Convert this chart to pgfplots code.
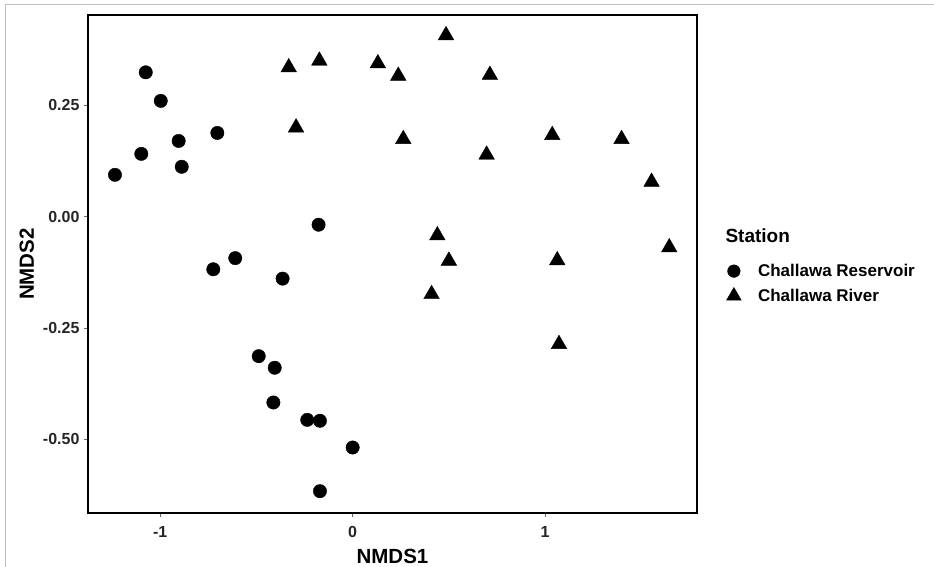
\documentclass[border=0pt]{standalone}
\usepackage{fontspec}
\setmainfont{Liberation Sans}
\usepackage{pgfplots}
\pgfplotsset{compat=1.18}

% NMDS scores
\pgfplotstableread{
x y
-1.235 0.094
-1.075 0.324
-0.997 0.260
-1.098 0.141
-0.904 0.170
-0.888 0.112
-0.703 0.188
-0.177 -0.018
-0.724 -0.118
-0.610 -0.093
-0.364 -0.139
-0.488 -0.313
-0.405 -0.339
-0.412 -0.417
-0.236 -0.456
-0.170 -0.458
0.000 -0.518
-0.170 -0.616
}\reservoir
\pgfplotstableread{
x y
-0.332 0.335
-0.173 0.350
0.131 0.344
-0.294 0.200
0.485 0.407
0.237 0.316
0.713 0.318
0.263 0.174
1.037 0.183
0.696 0.139
1.397 0.174
1.553 0.078
0.440 -0.042
1.645 -0.069
0.500 -0.099
1.063 -0.098
0.410 -0.174
1.072 -0.286
}\river

\begin{document}
\begin{tikzpicture}[x=1pt,y=1pt]
\path[use as bounding box, fill=white] (-88,-54) rectangle (846,513);
\draw[black!25, line width=1pt] (-82,-54) -- (-82,508) -- (846,508);
\begin{axis}[
  at={(0,0)}, anchor=south west,
  scale only axis, width=609pt, height=498pt,
  xmin=-1.375, xmax=1.789, ymin=-0.665, ymax=0.4527,
  axis line style={line width=1.4pt},
  xtick pos=bottom, ytick pos=left,
  tick align=outside, major tick length=4pt,
  tick style={black!60, line width=0.8pt},
  xtick={-1,0,1}, xticklabels={-1,0,1},
  ytick={-0.5,-0.25,0,0.25}, yticklabels={-0.50,-0.25,0.00,0.25},
  ticklabel style={font=\fontsize{16}{18}\selectfont\bfseries, text=black!85},
  xticklabel style={yshift=-6pt},
  yticklabel style={xshift=-1pt},
  xlabel={NMDS1}, ylabel={NMDS2},
  label style={font=\fontsize{20.5}{22}\selectfont\bfseries},
  xlabel style={yshift=-4pt},
  ylabel style={yshift=2pt},
  legend style={draw=none, fill=none, at={(1.041,0.508)}, anchor=north west,
    font=\fontsize{17}{19}\selectfont\bfseries, row sep=7pt},
  legend cell align=left,
  legend image code/.code={\draw[#1] plot coordinates {(0.3cm,0cm)}; \path (0cm,0cm) (1.07cm,0cm);},
  clip=false,
]
\addplot[only marks, mark=*, mark size=6.7pt, black, legend image post style={mark size=6.3pt}] table {\reservoir};
\addlegendentry{Challawa Reservoir}
\addplot[only marks, mark=triangle*, mark size=9pt, black, legend image post style={mark size=8.5pt}] table {\river};
\addlegendentry{Challawa River}
\node[anchor=west, font=\fontsize{19}{21}\selectfont\bfseries] at (rel axis cs:1.041,0.556) {Station};
\end{axis}
\end{tikzpicture}
\end{document}
